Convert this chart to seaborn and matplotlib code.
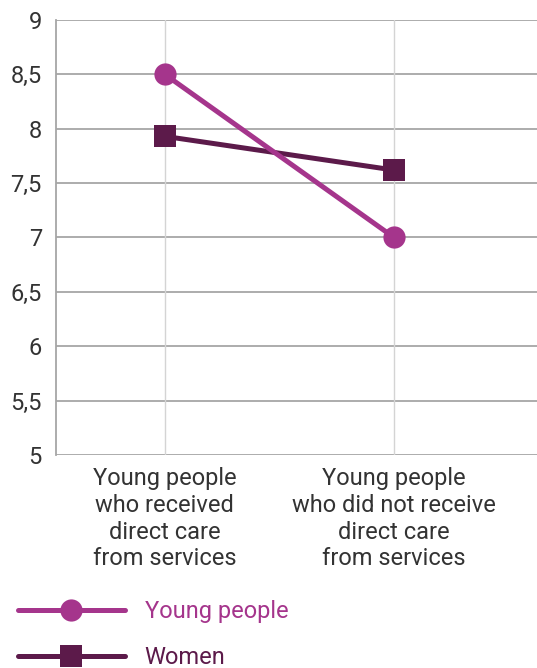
import pandas as pd
import matplotlib
matplotlib.use('Agg')
import matplotlib.pyplot as plt
from matplotlib.lines import Line2D
import seaborn as sns

# data
categories = ['Young people\nwho received\ndirect care\nfrom services',
              'Young people\nwho did not receive\ndirect care\nfrom services']
series = ['Young people', 'Women']
young_people = [8.5, 7.0]
women = [7.93, 7.62]
y_ticks = [5, 5.5, 6, 6.5, 7, 7.5, 8, 8.5, 9]
y_tick_labels = ['5', '5,5', '6', '6,5', '7', '7,5', '8', '8,5', '9']

colors = {'Young people': '#a5358c', 'Women': '#5c1a4a'}
markers = {'Young people': 'o', 'Women': 's'}

df = pd.DataFrame({
    'category': categories * 2,
    'value': young_people + women,
    'series': [series[0]] * 2 + [series[1]] * 2,
})

sns.set_style('white')
plt.rcParams['font.family'] = ['Roboto', 'DejaVu Sans']

fig = plt.figure(figsize=(5.37, 6.68), dpi=100)
ax = fig.add_axes([0.104, 0.319, 0.896, 0.651])

sns.lineplot(data=df, x='category', y='value', hue='series', style='series',
             hue_order=series[::-1], style_order=series[::-1],
             palette=colors, markers=markers, dashes=False,
             linewidth=3.6, markersize=16, markeredgewidth=0,
             legend=False, ax=ax)

ax.set_xlim(-0.476, 1.624)
ax.set_ylim(5, 9)
ax.set_yticks(y_ticks)
ax.set_yticklabels(y_tick_labels)
ax.set_xlabel('')
ax.set_ylabel('')

for y in y_ticks:
    ax.axhline(y, color='#a6a6a6', linewidth=1.3, zorder=0)
for x in range(len(categories)):
    ax.axvline(x, color='#d4d4d4', linewidth=1.0, zorder=0)

for side in ['top', 'right', 'bottom']:
    ax.spines[side].set_visible(False)
ax.spines['left'].set_color('#a6a6a6')
ax.spines['left'].set_linewidth(1.3)

ax.tick_params(axis='y', length=0, pad=10, labelsize=17, labelcolor='#333333')
ax.tick_params(axis='x', length=0, pad=9, labelsize=17, labelcolor='#333333')

handles = [Line2D([], [], color=colors[s], marker=markers[s], markersize=16,
                  markeredgewidth=0, linewidth=3.6, solid_capstyle='round')
           for s in series]
fig.legend(handles, series, loc='upper left', bbox_to_anchor=(0.034, 0.102),
           frameon=False, fontsize=17, handlelength=4.5, handletextpad=0.85,
           labelspacing=0.97, borderpad=0, borderaxespad=0,
           labelcolor=[colors[s] for s in series])

fig.savefig('out.png', dpi=100)
